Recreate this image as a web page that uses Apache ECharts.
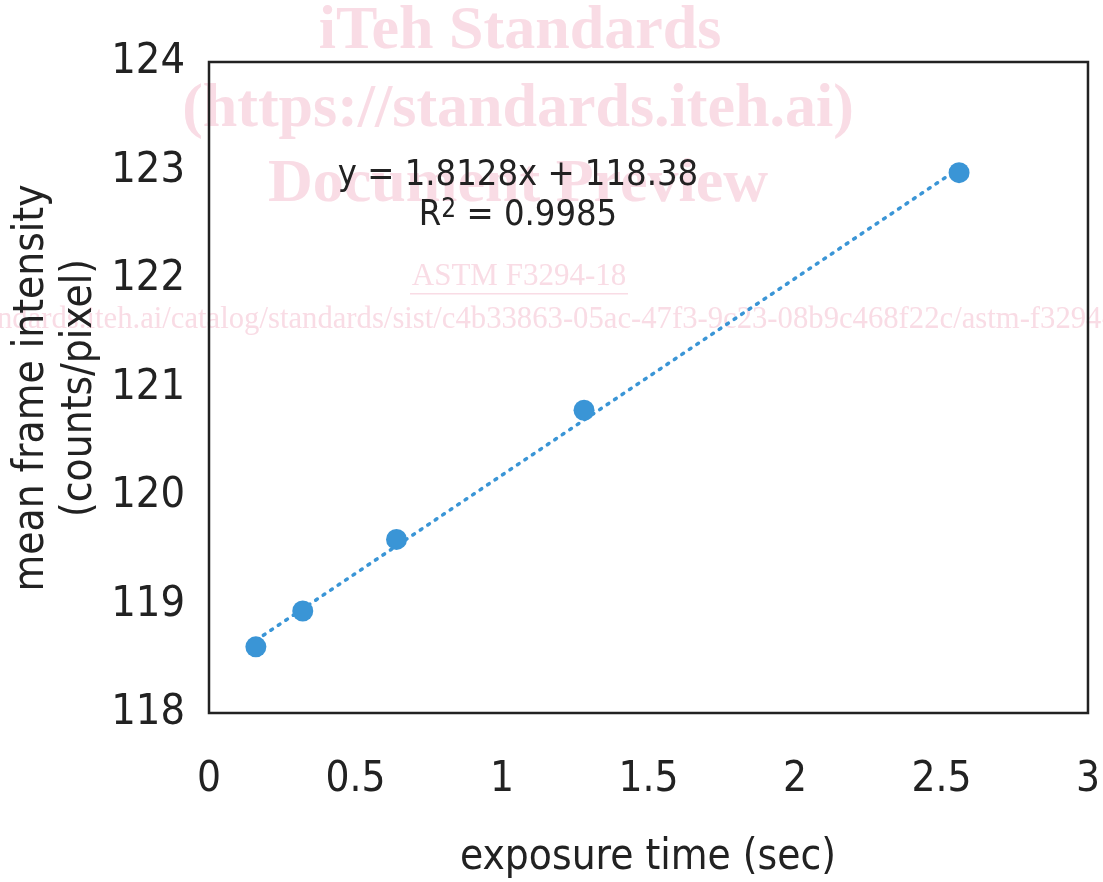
<!DOCTYPE html>
<html>
<head>
<meta charset="utf-8">
<script src="https://cdn.jsdelivr.net/npm/echarts@6/dist/echarts.min.js"></script>
<style>
  html, body { margin: 0; padding: 0; background: #fff; }
  #chart { width: 1103px; height: 882px; }
</style>
</head>
<body>
<div id="chart"></div>
<script>
// measured points
const exposure = [0.16, 0.32, 0.64, 1.28, 2.56];
const intensity = [118.61, 118.94, 119.6, 120.79, 122.98];
// linear trendline ends (y = 1.8128x + 118.38)
const trendX = [0.16, 2.56];
const trendY = [118.67, 123.02];
const xTicks = [0, 0.5, 1, 1.5, 2, 2.5, 3];
const yTicks = [118, 119, 120, 121, 122, 123, 124];

const font = "'DejaVu Sans Condensed', 'DejaVu Sans', sans-serif";
const blue = '#3a95d6';
const pink = '#f9dce5';

const chart = echarts.init(document.getElementById('chart'));

const option = {
    animation: false,
    backgroundColor: '#fff',
    grid: {
        left: 209,
        right: 15,
        top: 62,
        bottom: 169,
        show: true,
        borderColor: '#222',
        borderWidth: 2.5,
        backgroundColor: 'transparent',
        z: 1
    },
    xAxis: {
        type: 'value',
        min: 0,
        max: 3,
        interval: 0.5,
        axisLine: { show: false },
        axisTick: { show: false },
        splitLine: { show: false },
        axisLabel: {
            margin: 46,
            fontFamily: font,
            fontSize: 42,
            color: '#222',
            formatter: (v) => String(v)
        }
    },
    yAxis: {
        type: 'value',
        min: 118,
        max: 124,
        interval: 1,
        axisLine: { show: false },
        axisTick: { show: false },
        splitLine: { show: false },
        axisLabel: {
            margin: 24,
            fontFamily: font,
            fontSize: 43,
            color: '#222'
        }
    },
    graphic: [
        // watermark, behind everything
        { type: 'text', z: -10, x: 520, y: 32, style: { text: 'iTeh Standards', align: 'center', verticalAlign: 'middle', font: 'bold 62px "Liberation Serif", serif', fill: pink } },
        { type: 'text', z: -10, x: 518, y: 110, style: { text: '(https://standards.iteh.ai)', align: 'center', verticalAlign: 'middle', font: 'bold 62px "Liberation Serif", serif', fill: pink } },
        { type: 'text', z: -10, x: 518, y: 185, style: { text: 'Document Preview', align: 'center', verticalAlign: 'middle', font: 'bold 62px "Liberation Serif", serif', fill: pink } },
        { type: 'text', z: -10, x: 519, y: 277, style: { text: 'ASTM F3294-18', align: 'center', verticalAlign: 'middle', font: '31px "Liberation Serif", serif', fill: pink } },
        { type: 'rect', z: -10, shape: { x: 410, y: 293, width: 218, height: 1.5 }, style: { fill: pink } },
        { type: 'text', z: -10, x: 510, y: 320, style: { text: 'https://standards.iteh.ai/catalog/standards/sist/c4b33863-05ac-47f3-9c23-08b9c468f22c/astm-f3294-18', align: 'center', verticalAlign: 'middle', font: '30.7px "Liberation Serif", serif', fill: pink } },
        // titles and annotation
        { type: 'text', z: 5, x: 648, y: 858, style: { text: 'exposure time (sec)', align: 'center', verticalAlign: 'middle', font: '42px ' + font, fill: '#222' } },
        { type: 'text', z: 5, x: 32, y: 388, rotation: Math.PI / 2, style: { text: 'mean frame intensity', align: 'center', verticalAlign: 'middle', font: '42px ' + font, fill: '#222' } },
        { type: 'text', z: 5, x: 80, y: 388, rotation: Math.PI / 2, style: { text: '(counts/pixel)', align: 'center', verticalAlign: 'middle', font: '42px ' + font, fill: '#222' } },
        { type: 'text', z: 5, x: 518, y: 176, style: { text: 'y = 1.8128x + 118.38', align: 'center', verticalAlign: 'middle', font: '36px ' + font, fill: '#222' } },
        { type: 'text', z: 5, x: 518, y: 216, style: { text: 'R{s|2} = 0.9985', rich: { s: { font: '26px ' + font, fill: '#222', verticalAlign: 'top', padding: [0, 0, 12, 0] } }, align: 'center', verticalAlign: 'middle', font: '36px ' + font, fill: '#222' } }
    ],
    series: [
        {
            type: 'line',
            data: trendX.map((x, i) => [x, trendY[i]]),
            showSymbol: false,
            lineStyle: { color: blue, width: 3.5, type: [2, 7], cap: 'round' },
            z: 3
        },
        {
            type: 'scatter',
            data: exposure.map((x, i) => [x, intensity[i]]),
            symbol: 'circle',
            symbolSize: 21,
            itemStyle: { color: blue, opacity: 1 },
            z: 4
        }
    ]
};

chart.setOption(option);
window.addEventListener('resize', function () {
    chart.resize();
});
</script>
</body>
</html>
